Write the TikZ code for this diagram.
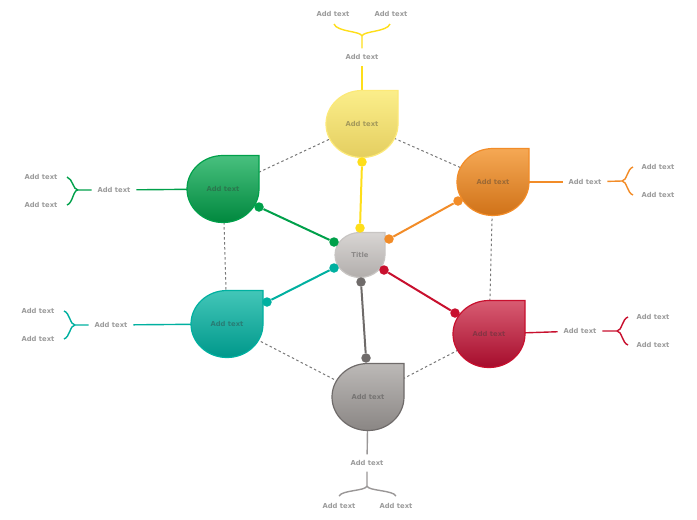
\documentclass[tikz,border=0pt]{standalone}
\usepackage{fontspec}
\setsansfont{DejaVu Sans}
\usetikzlibrary{calc}

\definecolor{yelline}{RGB}{254,222,26}
\definecolor{yeledge}{RGB}{252,233,120}
\definecolor{yeltop}{RGB}{251,238,138}
\definecolor{yelbot}{RGB}{228,206,96}
\definecolor{oraline}{RGB}{242,140,40}
\definecolor{oratop}{RGB}{245,168,84}
\definecolor{orabot}{RGB}{208,114,24}
\definecolor{grnline}{RGB}{0,160,74}
\definecolor{grntop}{RGB}{72,192,126}
\definecolor{grnbot}{RGB}{0,136,62}
\definecolor{tealine}{RGB}{0,176,160}
\definecolor{teatop}{RGB}{66,198,184}
\definecolor{teabot}{RGB}{0,152,139}
\definecolor{redline}{RGB}{200,16,46}
\definecolor{redtop}{RGB}{216,92,114}
\definecolor{redbot}{RGB}{166,12,44}
\definecolor{gryline}{RGB}{111,107,106}
\definecolor{grytop}{RGB}{188,185,183}
\definecolor{grybot}{RGB}{138,134,132}
\definecolor{ttlline}{RGB}{200,197,195}
\definecolor{ttltop}{RGB}{216,213,211}
\definecolor{ttlbot}{RGB}{178,174,172}
\definecolor{lbl}{RGB}{155,155,155}
\definecolor{hexdash}{RGB}{120,120,120}

\begin{document}
\begin{tikzpicture}[x=1pt, y=-1pt,
    addtext/.style={font=\sffamily\bfseries\fontsize{6.8}{8}\selectfont, text=lbl, inner sep=2pt, outer sep=4pt},
    droptext/.style={font=\sffamily\bfseries\fontsize{6.8}{8}\selectfont, inner sep=1pt, text=black!80, text opacity=0.4},
    spoke/.style={line width=2pt},
    branch/.style={line width=1.4pt},
    hexline/.style={hexdash, line width=1pt, dash pattern=on 2.5pt off 2.5pt},
    dotn/.style={circle, inner sep=0pt, minimum size=9.5pt},
    pics/drop/.style n args={5}{code={
        \draw[draw=#1, line width=1.2pt, top color=#2, bottom color=#3]
            (#4,-#5) -- (#4,0) arc[start angle=0, end angle=270, x radius=#4, y radius=#5] -- cycle;
    }}]
    \useasboundingbox (0,0) rectangle (697,520);

    % bubble centres
    \coordinate (yel) at (362,124);
    \coordinate (ora) at (493,182);
    \coordinate (red) at (489,334);
    \coordinate (gry) at (368,397);
    \coordinate (tea) at (227,324);
    \coordinate (grn) at (223,189);
    \coordinate (ttl) at (360,255);

    % outer labels
    \node[addtext] (ylab) at (362,57) {Add text};
    \node[addtext] (yl1) at (333,14) {Add text};
    \node[addtext] (yl2) at (391,14) {Add text};
    \node[addtext] (olab) at (585,182) {Add text};
    \node[addtext] (ol1) at (658,167) {Add text};
    \node[addtext] (ol2) at (658,195) {Add text};
    \node[addtext] (rlab) at (580,331) {Add text};
    \node[addtext] (rl1) at (653,317) {Add text};
    \node[addtext] (rl2) at (653,345) {Add text};
    \node[addtext] (glab) at (367,463) {Add text};
    \node[addtext] (gl1) at (339,506) {Add text};
    \node[addtext] (gl2) at (396,506) {Add text};
    \node[addtext] (tlab) at (111,325) {Add text};
    \node[addtext] (tl1) at (38,311) {Add text};
    \node[addtext] (tl2) at (38,339) {Add text};
    \node[addtext] (nlab) at (114,190) {Add text};
    \node[addtext] (nl1) at (41,177) {Add text};
    \node[addtext] (nl2) at (41,205) {Add text};

    % brace junctions
    \coordinate (yj) at (362,36);
    \coordinate (oj) at (622,181);
    \coordinate (rj) at (617,331);
    \coordinate (gj) at (367,486);
    \coordinate (tj) at (75,325);
    \coordinate (nj) at (78,190);

    % dashed ring
    \draw[hexline] (yel) -- (ora) -- (red) -- (gry) -- (tea) -- (grn) -- (yel);

    % branches
    \draw[branch, yelline] (yel) -- (ylab);
    \draw[branch, yelline] (ylab) -- (yj) .. controls (361,31) and (337,32) .. (334,24);
    \draw[branch, yelline] (yj) .. controls (363,31) and (387,32) .. (390,24);
    \draw[branch, oraline] (ora) -- (olab);
    \draw[branch, oraline] (olab) -- (oj) .. controls (627,181) and (627,169) .. (633,167);
    \draw[branch, oraline] (oj) .. controls (627,181) and (627,193) .. (633,195);
    \draw[branch, redline] (red) -- (rlab);
    \draw[branch, redline] (rlab) -- (rj) .. controls (622,331) and (622,319) .. (628,317);
    \draw[branch, redline] (rj) .. controls (622,331) and (622,343) .. (628,345);
    \draw[branch, gryline!70!white] (gry) -- (glab);
    \draw[branch, gryline!70!white] (glab) -- (gj) .. controls (366,491) and (342,490) .. (339,496);
    \draw[branch, gryline!70!white] (gj) .. controls (368,491) and (393,490) .. (396,496);
    \draw[branch, tealine] (tea) -- (tlab);
    \draw[branch, tealine] (tlab) -- (tj) .. controls (70,325) and (70,313) .. (64,311);
    \draw[branch, tealine] (tj) .. controls (70,325) and (70,337) .. (64,339);
    \draw[branch, grnline] (grn) -- (nlab);
    \draw[branch, grnline] (nlab) -- (nj) .. controls (73,190) and (73,179) .. (67,177);
    \draw[branch, grnline] (nj) .. controls (73,190) and (73,203) .. (67,205);

    % bubbles
    \pic at (yel) {drop={yeledge}{yeltop}{yelbot}{36}{33.5}};
    \pic at (ora) {drop={oraline}{oratop}{orabot}{36}{33.5}};
    \pic at (red) {drop={redline}{redtop}{redbot}{36}{33.5}};
    \pic at (gry) {drop={gryline}{grytop}{grybot}{36}{33.5}};
    \pic at (tea) {drop={tealine}{teatop}{teabot}{36}{33.5}};
    \pic at (grn) {drop={grnline}{grntop}{grnbot}{36}{33.5}};
    \pic at (ttl) {drop={ttlline}{ttltop}{ttlbot}{25}{22.5}};

    \node[droptext] (yeltxt) at (yel) {Add text};
    \node[droptext] (oratxt) at (ora) {Add text};
    \node[droptext] (redtxt) at (red) {Add text};
    \node[droptext] (grytxt) at (gry) {Add text};
    \node[droptext] (teatxt) at (tea) {Add text};
    \node[droptext] (grntxt) at (grn) {Add text};
    \node[droptext] (ttltxt) at (ttl) {Title};

    % spokes
    \node[dotn, fill=yelline] (y1) at (362,162) {};
    \node[dotn, fill=yelline] (y2) at (360,228) {};
    \node[dotn, fill=oraline] (o1) at (458,201) {};
    \node[dotn, fill=oraline] (o2) at (389,239) {};
    \node[dotn, fill=redline] (r1) at (455,313) {};
    \node[dotn, fill=redline] (r2) at (384,270) {};
    \node[dotn, fill=gryline] (g1) at (366,358) {};
    \node[dotn, fill=gryline] (g2) at (361,282) {};
    \node[dotn, fill=tealine] (t1) at (267,302) {};
    \node[dotn, fill=tealine] (t2) at (334,268) {};
    \node[dotn, fill=grnline] (n1) at (259,207) {};
    \node[dotn, fill=grnline] (n2) at (334,242) {};
    \draw[spoke, yelline] (y1) -- (y2);
    \draw[spoke, oraline] (o1) -- (o2);
    \draw[spoke, redline] (r1) -- (r2);
    \draw[spoke, gryline] (g1) -- (g2);
    \draw[spoke, tealine] (t1) -- (t2);
    \draw[spoke, grnline] (n1) -- (n2);
\end{tikzpicture}
\end{document}
